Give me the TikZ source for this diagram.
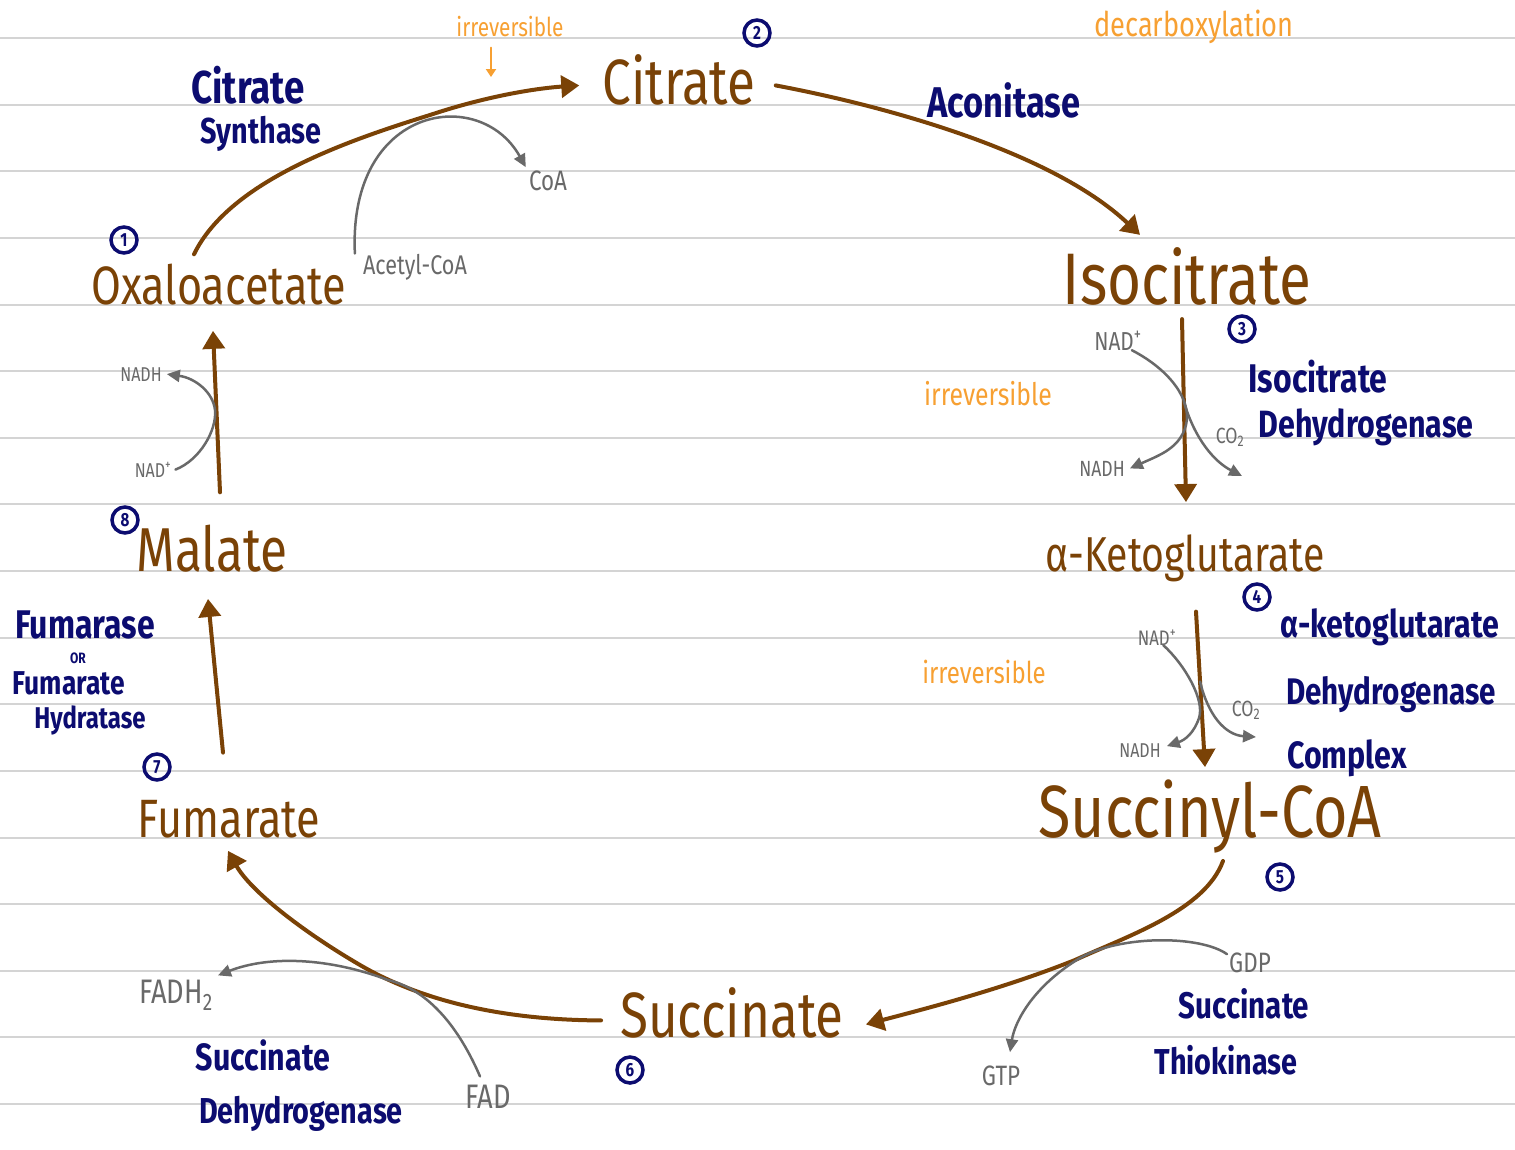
\documentclass[tikz,border=0pt]{standalone}
\usepackage{fontspec}
\setmainfont{Fira Sans}[FakeStretch=0.8]
\usepackage{tikz}
\usetikzlibrary{arrows.meta, positioning}

\definecolor{brownink}{RGB}{122,66,6}
\definecolor{navyink}{RGB}{12,12,112}
\definecolor{orangeink}{RGB}{247,160,50}
\definecolor{grayink}{RGB}{105,105,105}
\definecolor{ruleline}{RGB}{212,212,212}

\newcommand{\fsz}[1]{\fontsize{#1}{#1}\selectfont}

\begin{document}
\begin{tikzpicture}[x=1pt, y=-1pt,
    rule/.style={draw=ruleline, line width=2pt},
    metab/.style={text=brownink, inner sep=0pt, anchor=base, font=\fsz{#1}},
    enzyme/.style={text=navyink, inner sep=0pt, anchor=base, font=\bfseries\fsz{#1}},
    note/.style={text=orangeink, inner sep=0pt, anchor=base, font=\fsz{#1}},
    cofac/.style={text=grayink, inner sep=0pt, anchor=base, font=\fsz{#1}},
    stepnum/.style={circle, draw=navyink, line width=3.5pt, inner sep=0pt, minimum size=26pt,
        text=navyink, font=\bfseries\fsz{19}},
    flow/.style={draw=brownink, line width=4pt, line cap=round, -{Triangle[length=18pt,width=22pt]}},
    side/.style={draw=grayink, line width=2.5pt, line cap=round, -{Triangle[length=13pt,width=12pt]}},
    hint/.style={draw=orangeink, line width=2pt, line cap=round, -{Triangle[length=8pt,width=10pt]}}]
    \fill[white] (0,0) rectangle (1515,1149);
    \useasboundingbox (0,0) rectangle (1515,1149);

    % ruled paper
    \foreach \k in {0,...,16} {
        \draw[rule] (0,38+66.625*\k) -- (1515,38+66.625*\k);
    }

    % metabolites
    \node[metab=64] (cit) at (679,104) {Citrate};
    \node[metab=54] (oxa) at (219,304) {Oxaloacetate};
    \node[metab=73] (iso) at (1187,304) {Isocitrate};
    \node[metab=49] (akg) at (1185,571) {α-Ketoglutarate};
    \node[metab=74] (scoa) at (1210,837) {Succinyl-CoA};
    \node[metab=64] (suc) at (732,1037) {Succinate};
    \node[metab=54] (fum) at (229,837) {Fumarate};
    \node[metab=62] (mal) at (212,571) {Malate};

    % step numbers
    \foreach \n/\px/\py in {1/124/240, 2/757/33, 3/1242/329, 4/1257/597,
                          5/1280/877, 6/630/1070, 7/157/767, 8/125/520} {
        \node[stepnum] (n\n) at (\px,\py) {\n};
    }

    % enzymes
    \node[enzyme=46] (cs1) at (248,103) {Citrate};
    \node[enzyme=36] (cs2) at (261,143) {Synthase};
    \node[enzyme=43] (acon) at (1004,117) {Aconitase};
    \node[enzyme=40] (idh1) at (1318,392) {Isocitrate};
    \node[enzyme=38] (idh2) at (1366,437) {Dehydrogenase};
    \node[enzyme=38] (kdh1) at (1390,637) {α-ketoglutarate};
    \node[enzyme=37] (kdh2) at (1391,704) {Dehydrogenase};
    \node[enzyme=38] (kdh3) at (1347,768) {Complex};
    \node[enzyme=37] (sts1) at (1244,1018) {Succinate};
    \node[enzyme=36] (sts2) at (1226,1074) {Thiokinase};
    \node[enzyme=38] (sdh1) at (263,1070) {Succinate};
    \node[enzyme=36] (sdh2) at (301,1123) {Dehydrogenase};
    \node[enzyme=40] (fh1) at (85,638) {Fumarase};
    \node[enzyme=15] (fh2) at (78,663) {OR};
    \node[enzyme=33] (fh3) at (69,694) {Fumarate};
    \node[enzyme=30] (fh4) at (90,728) {Hydratase};

    % notes
    \node[note=26] (irr1) at (510,36) {irreversible};
    \node[note=34] (decarb) at (1194,36) {decarboxylation};
    \node[note=31] (irr2) at (988,405) {irreversible};
    \node[note=30] (irr3) at (984,683) {irreversible};
    \coordinate (irrtip) at (491,77);
    \draw[hint] ([xshift=-19pt,yshift=-11pt]irr1.south) -- (irrtip);

    % cofactors
    \node[cofac=27] (acoa) at (415,274) {Acetyl-CoA};
    \node[cofac=28] (coa) at (548,190) {CoA};
    \node[cofac=26] (nad1) at (1118,350) {NAD\textsuperscript{+}};
    \node[cofac=22] (nadh1) at (1102,476) {NADH};
    \node[cofac=22] (co2a) at (1230,443) {CO\textsubscript{2}};
    \node[cofac=21] (nad2) at (1157,645) {NAD\textsuperscript{+}};
    \node[cofac=20] (nadh2) at (1140,757) {NADH};
    \node[cofac=22] (co2b) at (1246,716) {CO\textsubscript{2}};
    \node[cofac=28] (gdp) at (1250,972) {GDP};
    \node[cofac=28] (gtp) at (1001,1085) {GTP};
    \node[cofac=34] (fadh) at (176,1003) {FADH\textsubscript{2}};
    \node[cofac=34] (fad) at (488,1108) {FAD};
    \node[cofac=20] (nadh3) at (141,381) {NADH};
    \node[cofac=20] (nad3) at (153,477) {NAD\textsuperscript{+}};

    % main cycle
    \draw[flow] ([xshift=-25pt,yshift=9pt]oxa.north) .. controls (230,180) and (350,140) .. (430,115)
        .. controls (490,95) and (540,88) .. ([xshift=-23pt,yshift=-6pt]cit.west);
    \draw[flow] ([xshift=20pt,yshift=-6pt]cit.east) .. controls (880,105) and (1050,150)
        .. ([xshift=-47pt,yshift=12pt]iso.north);
    \draw[flow] ([xshift=-5pt,yshift=-14pt]iso.south) -- coordinate[pos=0.45] (m3)
        ([xshift=1pt,yshift=32pt]akg.north);
    \draw[flow] ([xshift=11pt,yshift=-30pt]akg.south) -- coordinate[pos=0.45] (m4)
        ([xshift=-5pt,yshift=12pt]scoa.north);
    \draw[flow] ([xshift=13pt,yshift=-8pt]scoa.south) .. controls (1205,910) and (1130,935) .. (1075,960)
        .. controls (1000,990) and (920,1010) .. ([xshift=22pt,yshift=-12pt]suc.east);
    \draw[flow] ([xshift=-19pt,yshift=-8pt]suc.west) .. controls (500,1020) and (420,1000) .. (360,965)
        .. controls (300,930) and (250,890) .. ([xshift=-1pt,yshift=-13pt]fum.south);
    \draw[flow] ([xshift=-6pt,yshift=47pt]fum.north) -- ([xshift=-4pt,yshift=-27pt]mal.south);
    \draw[flow] ([xshift=8pt,yshift=32pt]mal.north) -- ([xshift=-6pt,yshift=-26pt]oxa.south);

    % side reactions
    \draw[side] ([xshift=-8pt]acoa.north west) .. controls (348,105) and (480,85)
        .. ([xshift=-3pt,yshift=3pt]coa.north west);
    \draw[side] ([xshift=-10pt]nad1.south east) .. controls (1170,370) and (1192,400) .. (1186,425)
        .. controls (1180,448) and (1160,455) .. ([xshift=5pt]nadh1.east);
    \coordinate (co2tipa) at (1242,476);
    \draw[side] (m3) .. controls (1195,440) and (1215,462) .. (co2tipa);
    \draw[side] ([xshift=-13pt]nad2.south east) .. controls (1185,665) and (1205,700) .. (1199,718)
        .. controls (1194,733) and (1185,740) .. ([xshift=6pt,yshift=4pt]nadh2.east);
    \coordinate (co2tipb) at (1256,737);
    \draw[side] (m4) .. controls (1208,715) and (1225,735) .. (co2tipb);
    \draw[side] ([xshift=4pt]nad3.east) .. controls (200,460) and (217,430) .. (215,410)
        .. controls (213,392) and (195,378) .. ([xshift=5pt]nadh3.east);
    \draw[side] ([xshift=-2pt,yshift=-2pt]gdp.north west) .. controls (1200,935) and (1120,935) .. (1080,958)
        .. controls (1035,985) and (1015,1020) .. ([xshift=9pt,yshift=13pt]gtp.north);
    \draw[side] ([xshift=-8pt,yshift=8pt]fad.north) .. controls (460,1030) and (430,990) .. (388,980)
        .. controls (330,958) and (270,955) .. ([xshift=5pt,yshift=4pt]fadh.north east);
\end{tikzpicture}
\end{document}
